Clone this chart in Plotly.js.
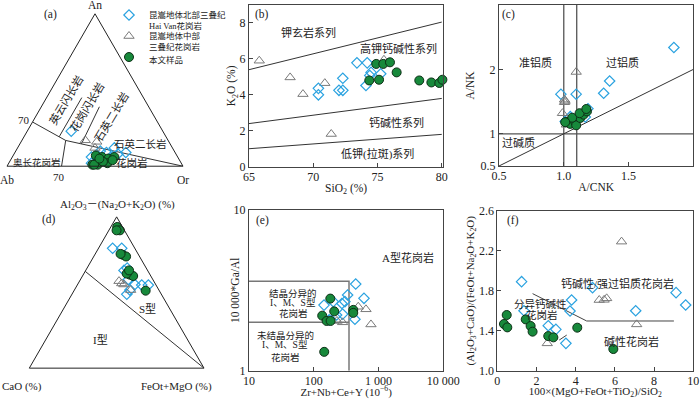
<!DOCTYPE html>
<html><head><meta charset="utf-8">
<script src="https://cdn.plot.ly/plotly-3.0.1.min.js"></script>
<style>html,body{margin:0;padding:0;background:#fff}#g{width:700px;height:399px}</style>
</head><body><div id="g"></div>
<script>
// ---------------- DATA ----------------
// (a) An-Ab-Or ternary
const aDiaAn=[23,12,9,8,9,7,2,10,6,6];
const aDiaAb=[52,33,28,33,39,45,51,42,49,38];
const aDiaOr=[25,55,63,59,52,48,47,48,45,56];
const aTriAn=[17,12,16];
const aTriAb=[47,44,41];
const aTriOr=[36,44,43];
const aGrnAn=[7,6,5,6,1,1,2,3,1,4,5];
const aGrnAb=[46,43,40,36,51,48,42,44,50,38,45];
const aGrnOr=[47,51,55,58,48,51,56,53,49,58,50];
const aMainAn=[29,16.9,0], aMainAb=[71,58.2,0], aMainOr=[0,24.9,100];
const aDownAn=[16.9,0], aDownAb=[58.2,69], aDownOr=[24.9,31];
const aL1An=[19.3,45], aL1Ab=[60.7,35], aL1Or=[20,20];
const aL2An=[14.6,39], aL2Ab=[50.4,28], aL2Or=[35,33];

// (b) SiO2 vs K2O
const bTriX=[65.8,68.2,69.2,70.9,71.4,75.5];
const bTriY=[5.9,4.97,4.04,4.65,1.82,5.95];
const bDiaX=[70.4,70.4,72.3,72.0,72.3,73.4,74.2,74.1,74.5,74.4,75.25];
const bDiaY=[4.36,4.0,4.92,4.25,4.25,5.78,5.78,4.52,5.25,5.08,5.17];
const bGrnX=[74.9,75.45,75.97,76.49,74.36,75.12,78.25,79.19,79.81,80.05];
const bGrnY=[5.72,5.72,5.81,5.25,4.80,4.84,4.80,4.69,4.66,4.84];
const bLineX=[65,80];
const bShoY=[5.4,8.05], bHkY=[2.4,3.8], bLkY=[1.0,1.8];

// (c) A/CNK vs A/NK
const cDiaX=[1.85,1.354,1.308,1.096,0.978,1.187,1.166,1.05,1.011];
const cDiaY=[2.34,1.82,1.63,1.615,1.615,1.39,1.26,1.266,1.19];
const cTriX=[1.096,1.006,1.006,1.01,0.99,1.02];
const cTriY=[1.96,1.53,1.49,1.51,1.32,1.14];
const cGrnX=[1.024,1.05,1.089,1.096,1.127,1.153,1.179,1.065,1.011,1.122,1.174];
const cGrnY=[1.185,1.154,1.185,1.132,1.246,1.297,1.348,1.25,1.18,1.32,1.385];
const cV1X=[1.0,1.0], cV2X=[1.1,1.1], cVY=[0.5,3];
const cHX=[0.5,2.0], cHY=[1,1];
const cDX=[0.5,2.0], cDY=[0.5,2.0];

// (d) ACF ternary
const dGrnA=[93.3,91.1,91.1,74.9,73.8,75.5,61.8,60.9,62.5,64.6,51.2];
const dGrnC=[3,2.6,4.5,9,7.7,10,11.5,10.1,13,10.6,7.8];
const dGrnF=[3.7,6.3,4.4,16.1,18.5,14.5,26.7,29,24.5,24.8,41];
const dDiaA=[79.2,79.2,66.1,55.3,54.9,54.9,48.8,51.6,58.6,64.6];
const dDiaC=[12.7,7.5,10.9,11.9,8.2,4.4,19.8,16.6,14,13.5];
const dDiaF=[8.1,13.3,23,32.8,36.9,40.7,31.4,31.8,27.4,21.9];
const dTriA=[56,55.3,57.5,51.6];
const dTriC=[19.1,18.2,19.9,16.2];
const dTriF=[24.9,26.5,22.6,32.2];
const dLineA=[64,0], dLineC=[36,0], dLineF=[0,100];

// (e) Zr+Nb+Ce+Y vs 10000Ga/Al
const eGrnX=[180,135,207,158,182,407,407,145];
const eGrnY=[2.81,2.20,2.34,2.04,2.04,2.39,2.29,1.31];
const eDiaX=[444,333,596,303,272,144,279,432,200,173,225];
const eDiaY=[3.46,2.96,2.82,2.69,2.62,2.56,2.25,2.09,2.69,2.07,2.22];
const eTriX=[486,640,764,279,228];
const eTriY=[2.50,2.41,1.94,2.0,2.04];
const eBoxX=[10,350,350], eBoxY=[3.6,3.6,1];
const eMidX=[10,350], eMidY=[2.0,2.0];

// (f)
const fDiaX=[1.24,1.36,2.60,2.99,3.50,3.71,3.79,4.86,7.06,9.12,9.61];
const fDiaY=[1.892,1.601,1.451,1.414,1.274,1.598,1.708,1.832,1.601,1.782,1.658];
const fTriX=[2.55,5.20,5.58,6.34,7.11,5.45];
const fTriY=[1.274,1.708,1.725,2.293,1.464,1.71];
const fGrnX=[0.48,0.34,0.51,1.45,1.70,1.80,2.60,2.86,4.08,5.92];
const fGrnY=[1.558,1.468,1.434,1.514,1.448,1.391,1.347,1.334,1.431,1.217];
const fSolX=[1.80,4.56,9.01], fSolY=[1.772,1.498,1.498];
const fDashX=[3.16,4.56], fDashY=[1.307,1.49];

const legNames=['昆嵩地体北部三叠纪<br>Hai Van花岗岩','昆嵩地体中部<br>三叠纪花岗岩','本文样品'];

// ---------------- STYLE ----------------
const W=700,H=399;
const px=x=>x/W, py=y=>1-y/H;
const FONT='"Liberation Serif","Noto Sans CJK SC",serif';
const DIA={symbol:'diamond-open',size:8,color:'#2aa2e0',line:{width:1.2,color:'#2aa2e0'}};
const TRI={symbol:'triangle-up-open',size:9,color:'#7a7a7a',line:{width:1,color:'#7a7a7a'}};
const GRN={symbol:'circle',size:9,color:'#17893b',line:{width:1,color:'#0d2f16'}};
const LINE={color:'#333',width:1};

const traces=[];
function tern(sub,a,b,c,marker,name,leg){
  const t={type:'scatterternary',subplot:sub,mode:'markers',a,b,c,marker,name:name||'',showlegend:!!leg,cliponaxis:false,hoverinfo:'skip'};
  if(leg) t.legend=leg;
  traces.push(t);
}
function ternLine(sub,a,b,c,line){
  traces.push({type:'scatterternary',subplot:sub,mode:'lines',a,b,c,line:line||LINE,showlegend:false,hoverinfo:'skip'});
}
function sc(xa,ya,x,y,marker){
  traces.push({type:'scatter',xaxis:xa,yaxis:ya,mode:'markers',x,y,marker,showlegend:false,cliponaxis:false,hoverinfo:'skip'});
}
function ln(xa,ya,x,y,line){
  traces.push({type:'scatter',xaxis:xa,yaxis:ya,mode:'lines',x,y,line:line||LINE,showlegend:false,hoverinfo:'skip'});
}

// (a)
ternLine('ternary',aMainAn,aMainAb,aMainOr);
ternLine('ternary',aDownAn,aDownAb,aDownOr);
ternLine('ternary',aL1An,aL1Ab,aL1Or);
ternLine('ternary',aL2An,aL2Ab,aL2Or);
tern('ternary',aDiaAn,aDiaAb,aDiaOr,DIA,legNames[0],'legend');
tern('ternary',aTriAn,aTriAb,aTriOr,TRI,legNames[1],'legend2');
tern('ternary',aGrnAn,aGrnAb,aGrnOr,GRN,legNames[2],'legend3');
// (d)
ternLine('ternary2',dLineA,dLineC,dLineF);
tern('ternary2',dDiaA,dDiaC,dDiaF,DIA);
tern('ternary2',dTriA,dTriC,dTriF,TRI);
tern('ternary2',dGrnA,dGrnC,dGrnF,GRN);
// (b)
ln('x','y',bLineX,bShoY); ln('x','y',bLineX,bHkY); ln('x','y',bLineX,bLkY);
sc('x','y',bTriX,bTriY,TRI); sc('x','y',bDiaX,bDiaY,DIA); sc('x','y',bGrnX,bGrnY,GRN);
// (c)
const GL={color:'#555',width:1.3};
ln('x2','y2',cV1X,cVY,GL); ln('x2','y2',cV2X,cVY,GL); ln('x2','y2',cHX,cHY,GL); ln('x2','y2',cDX,cDY,LINE);
sc('x2','y2',cDiaX,cDiaY,DIA); sc('x2','y2',cTriX,cTriY,TRI); sc('x2','y2',cGrnX,cGrnY,GRN);
// (e)
const EL={color:'#777',width:1.5};
ln('x3','y3',eBoxX,eBoxY,EL); ln('x3','y3',eMidX,eMidY,EL);
sc('x3','y3',eDiaX,eDiaY,DIA); sc('x3','y3',eTriX,eTriY,TRI); sc('x3','y3',eGrnX,eGrnY,GRN);
// (f)
ln('x4','y4',fSolX,fSolY,{color:'#444',width:1});
ln('x4','y4',fDashX,fDashY,{color:'#444',width:1,dash:'dash'});
sc('x4','y4',fDiaX,fDiaY,DIA); sc('x4','y4',fTriX,fTriY,TRI); sc('x4','y4',fGrnX,fGrnY,GRN);

const TF=12, TT=11;
const AX={showline:true,mirror:true,linecolor:'#444',linewidth:1,ticks:'inside',ticklen:4,tickcolor:'#444',
  showgrid:false,zeroline:false,tickfont:{size:TF,color:'#222',family:FONT},fixedrange:true};
function ax(extra){return Object.assign({},AX,extra);}
const TAX={showline:true,linecolor:'#222',linewidth:1,showgrid:false,ticks:'',showticklabels:false,title:{text:''}};

function A(text,x,y,o){return Object.assign({text,x:px(x),y:py(y),xref:'paper',yref:'paper',showarrow:false,
  xanchor:'center',yanchor:'middle',font:{size:10,color:'#222',family:FONT}},o||{});}
const f=(s)=>({size:s,color:'#222',family:FONT});

const annotations=[
  // (a)
  A('(a)',50,14,{font:f(11.5)}), A('An',95,5,{font:f(11.5)}), A('Ab',7,180,{font:f(11.5)}), A('Or',183,180,{font:f(11.5)}),
  A('70',24,120,{font:f(11)}), A('70',59,177,{font:f(11)}),
  A('英云闪长岩',65,100,{textangle:-59,font:f(11)}),
  A('花岗闪长岩',86,107,{textangle:-59,font:f(11)}),
  A('石英二长岩',111,116,{textangle:-59,font:f(11)}),
  A('石英二长岩',140,144,{font:f(10.5)}),
  A('奥长花岗岩',37,162.5,{font:f(9.5)}),
  A('花岗岩',132,163,{font:f(10.5)}),
  // (b)
  A('(b)',262,14,{font:f(11.5)}),
  A('钾玄岩系列',308,32,{font:f(11)}),
  A('高钾钙碱性系列',399,49,{font:f(11)}),
  A('钙碱性系列',396,122,{font:f(11)}),
  A('低钾(拉斑)系列',377,154,{font:f(11)}),
  // (c)
  A('(c)',509,14,{font:f(11.5)}),
  A('准铝质',535,62,{font:f(11)}),
  A('过铝质',622,62,{font:f(11)}),
  A('过碱质',518,143,{font:f(11)}),
  // (d)
  A('(d)',49,219,{font:f(11.5)}),
  A('Al<sub>2</sub>O<sub>3</sub>－(Na<sub>2</sub>O+K<sub>2</sub>O) (%)',117,205,{font:f(11)}),
  A('CaO (%)',22,386,{font:f(11)}),
  A('FeOt+MgO (%)',176,386,{font:f(11)}),
  A('S型',147,308,{font:f(11)}),
  A('I型',100,339,{font:f(11)}),
  // (e)
  A('(e)',262,220,{font:f(11.5)}),
  A('10 000*Ga/Al',235,290,{textangle:-90,font:f(11.5)}),
  A('A型花岗岩',408,257,{font:f(11)}),
  A('结晶分异的',293,293,{font:f(9.5)}),
  A('I、M、S型',293,303,{font:f(9.5)}),
  A('花岗岩',293,313,{font:f(9.5)}),
  A('未结晶分异的',285,335,{font:f(9.5)}),
  A('I、M、S型',285,345,{font:f(9.5)}),
  A('花岗岩',285,357,{font:f(9.5)}),
  // (f)
  A('(f)',513,220,{font:f(11.5)}),
  A('钙碱性/强过铝质花岗岩',617,283,{font:f(11)}),
  A('分异钙碱性',540,303.5,{font:f(10.5)}),
  A('花岗岩',542,314.5,{font:f(10.5)}),
  A('碱性花岗岩',631,341,{font:f(11)})
];

const LEG={xanchor:'left',yanchor:'top',bgcolor:'rgba(0,0,0,0)',font:{size:8.5,family:FONT,color:'#222'},
  valign:'top',tracegroupgap:0,itemclick:false,itemdoubleclick:false};
const layout={
  width:700,height:399,margin:{l:0,r:0,t:0,b:0},paper_bgcolor:'#fff',plot_bgcolor:'rgba(0,0,0,0)',
  font:{family:FONT,color:'#222',size:11},
  showlegend:true,
  legend:Object.assign({x:px(109),y:py(3)},LEG),
  legend2:Object.assign({x:px(109),y:py(24)},LEG),
  legend3:Object.assign({x:px(109),y:py(45)},LEG),
  ternary:{domain:{x:[px(7),px(183)],y:[py(167),py(13)]},sum:100,bgcolor:'rgba(0,0,0,0)',aaxis:TAX,baxis:TAX,caxis:TAX},
  ternary2:{domain:{x:[px(29.3),px(204)],y:[py(369.3),py(215.7)]},sum:100,bgcolor:'rgba(0,0,0,0)',aaxis:TAX,baxis:TAX,caxis:TAX},
  xaxis:ax({domain:[px(249),px(443.3)],anchor:'y',range:[65,80.12],tickvals:[65,70,75,80],ticklabelstandoff:-1,
    title:{text:'SiO<sub>2</sub> (%)',font:f(11.5),standoff:0}}),
  yaxis:ax({domain:[py(166.7),py(5)],anchor:'x',range:[0,9],tickvals:[0,2,4,6,8],
    title:{text:'K<sub>2</sub>O (%)',font:f(11.5),standoff:0}}),
  xaxis2:ax({domain:[px(499),px(693.3)],anchor:'y2',range:[0.5,2.0],tickvals:[0.5,1.0,1.5,2.0],ticktext:['0.5','1.0','1.5','2.0'],ticklabelstandoff:-1,
    title:{text:'A/CNK',font:f(11.5),standoff:0}}),
  yaxis2:ax({domain:[py(166),py(5)],anchor:'x2',range:[0.5,3],tickvals:[0.5,1,2,3],ticktext:['0.5','1','2','3'],
    title:{text:'A/NK',font:f(11.5),standoff:3}}),
  xaxis3:ax({domain:[px(249),px(443.3)],anchor:'y3',type:'log',range:[1,4],tickvals:[10,100,1000,10000],ticktext:['10','100','1 000','10 000'],ticklabelstandoff:-1,
    title:{text:'Zr+Nb+Ce+Y (10<sup>−6</sup>)',font:f(TT),standoff:0}}),
  yaxis3:ax({domain:[py(370.7),py(210)],anchor:'x3',type:'log',range:[0,1],tickvals:[1,10],ticktext:['1','10']}),
  xaxis4:ax({domain:[px(497.3),px(693.3)],anchor:'y4',range:[0,10],tickvals:[0,2,4,6,8,10],ticklabelstandoff:-1,
    title:{text:'100×(MgO+FeOt+TiO<sub>2</sub>)/SiO<sub>2</sub>',font:f(TT),standoff:0}}),
  yaxis4:ax({domain:[py(370.7),py(211)],anchor:'x4',range:[1.0,2.6],tickvals:[1.0,1.4,1.8,2.2,2.6],ticktext:['1.0','1.4','1.8','2.2','2.6'],
    title:{text:'(Al<sub>2</sub>O<sub>3</sub>+CaO)/(FeOt+Na<sub>2</sub>O+K<sub>2</sub>O)',font:f(11),standoff:2}}),
  annotations
};
Plotly.newPlot('g',traces,layout,{staticPlot:true,displayModeBar:false});
</script></body></html>
